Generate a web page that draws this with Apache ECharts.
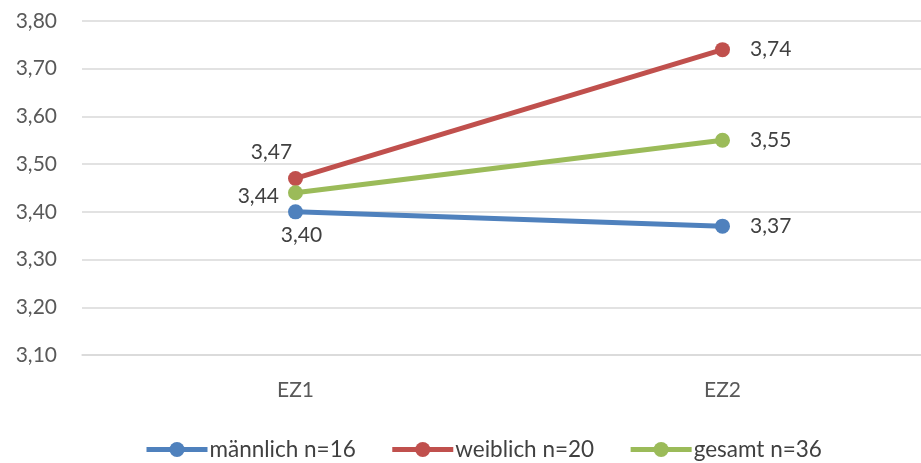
<!DOCTYPE html>
<html>
<head>
<meta charset="utf-8">
<script src="https://cdn.jsdelivr.net/npm/echarts@6/dist/echarts.min.js"></script>
<style>
  html, body { margin: 0; padding: 0; background: #fff; }
  #chart { width: 921px; height: 463px; }
</style>
</head>
<body>
<div id="chart"></div>
<script>
// Mean scores per measurement time, by group
const categories = ['EZ1', 'EZ2'];
const maleValues = [3.40, 3.37];
const femaleValues = [3.47, 3.74];
const totalValues = [3.44, 3.55];
const seriesNames = ['männlich n=16', 'weiblich n=20', 'gesamt n=36'];

const fmt = v => v.toFixed(2).replace('.', ',');
const FONT = 'Lato, "Open Sans", sans-serif';
const TEXT = '#404040';

function pointLabels(values, firstPos) {
  return values.map((v, i) => ({
    value: v,
    label: i === 0 ? firstPos : { position: 'right', distance: 20 }
  }));
}

const chart = echarts.init(document.getElementById('chart'), null, { renderer: 'canvas' });

const baseSeries = (name, color, data) => ({
  name,
  type: 'line',
  data,
  symbol: 'circle',
  symbolSize: 15,
  lineStyle: { color, width: 5 },
  itemStyle: { color },
  z: 3,
  label: {
    show: true,
    formatter: p => fmt(p.value),
    fontFamily: FONT,
    fontSize: 21,
    color: TEXT
  }
});

chart.setOption({
  animation: false,
  textStyle: { fontFamily: FONT },
  // the plot area runs on past the right edge of the canvas
  grid: { left: 82, width: 854, top: 21, bottom: 108, outerBoundsMode: 'none', containLabel: false },
  legend: {
    top: 433,
    left: 139,
    itemWidth: 61,
    itemHeight: 19,
    itemGap: 34,
    lineStyle: { width: 5 },
    textStyle: { fontFamily: FONT, fontSize: 22.5, color: TEXT, padding: [0, 0, 0, -3] },
    data: seriesNames
  },
  xAxis: {
    type: 'category',
    data: categories,
    boundaryGap: true,
    axisLine: { show: true, lineStyle: { color: '#d9d9d9', width: 1.5 } },
    axisTick: { show: false },
    axisLabel: { fontFamily: FONT, fontSize: 21, color: '#595959', margin: 25 }
  },
  yAxis: {
    type: 'value',
    min: 3.1,
    max: 3.8,
    interval: 0.1,
    axisLine: { show: false },
    axisTick: { show: false },
    splitLine: { lineStyle: { color: '#d9d9d9', width: 1.5 } },
    axisLabel: {
      fontFamily: FONT, fontSize: 21, color: '#595959', margin: 25,
      formatter: v => fmt(v)
    }
  },
  series: [
    baseSeries(seriesNames[0], '#4F81BD',
      pointLabels(maleValues, { position: 'bottom', distance: 5, offset: [6, 0] })),
    baseSeries(seriesNames[1], '#C0504D',
      pointLabels(femaleValues, { position: 'top', distance: 8, offset: [-24, 0] })),
    baseSeries(seriesNames[2], '#9BBB59',
      pointLabels(totalValues, { position: 'left', distance: 9, offset: [0, 3] }))
  ]
});
</script>
</body>
</html>
